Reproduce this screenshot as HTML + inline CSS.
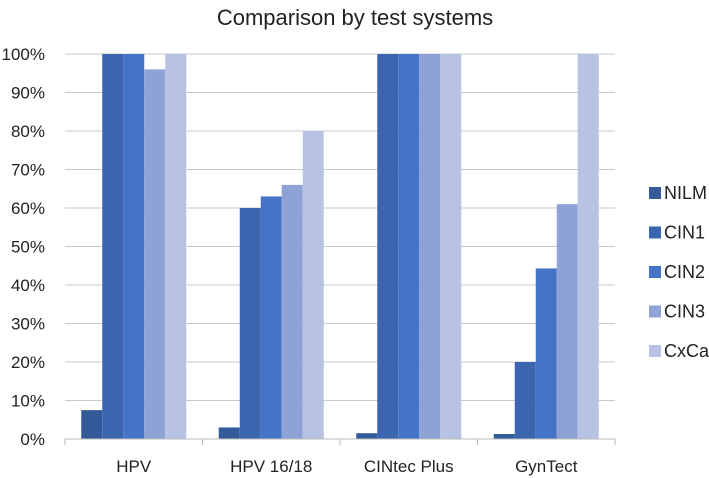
<!DOCTYPE html>
<html><head><meta charset="utf-8"><style>
body{margin:0;background:#fff;}
svg{display:block;font-family:"Liberation Sans",sans-serif;}
</style></head><body>
<svg id="chart" width="709" height="478">
<text x="355" y="25" text-anchor="middle" font-size="22" fill="#222">Comparison by test systems</text>
<g id="grid"></g><g id="bars"></g><g id="axes"></g><g id="legend"></g>
</svg>
<script>
const categories=["HPV","HPV 16/18","CINtec Plus","GynTect"];
const seriesNames=["NILM","CIN1","CIN2","CIN3","CxCa"];
const NILM=[7.5,3,1.5,1.3];
const CIN1=[100,60,100,20];
const CIN2=[100,63,100,44.3];
const CIN3=[96,66,100,61];
const CxCa=[100,80,100,100];
const yTicks=[0,10,20,30,40,50,60,70,80,90,100];
const series=[NILM,CIN1,CIN2,CIN3,CxCa];
const colors=["#335a99","#3b65af","#4574c6","#8ea2d5","#b8c3e4"];
const NS="http://www.w3.org/2000/svg";
const x0=65,x1=615,y0=439,y1=54;
const bw=(x1-x0)/categories.length;
const y=v=>y0-(v/100)*(y0-y1);
function el(t,a,p){const e=document.createElementNS(NS,t);for(const k in a)e.setAttribute(k,a[k]);document.getElementById(p).appendChild(e);return e;}
yTicks.forEach(t=>{
  const l=el("line",{x1:x0,x2:x1,y1:y(t),y2:y(t),stroke:"#c8c8c8","stroke-width":1},"grid");
  
  
  const tx=el("text",{x:45,y:y(t)+6,"text-anchor":"end","font-size":17,fill:"#222"},"axes");
  tx.textContent=t+"%";
  
  
});
const barW=21;
categories.forEach((c,i)=>{
  const gx=x0+i*bw+(bw-barW*5)/2;
  series.forEach((s,j)=>{
    const r=el("rect",{x:gx+j*barW,y:y(s[i]),width:barW,height:y0-y(s[i]),fill:colors[j]},"bars");
    
    
  });
  const tx=el("text",{x:x0+i*bw+bw/2,y:472,"text-anchor":"middle","font-size":17,fill:"#222"},"axes");
  tx.textContent=c;
  
  
});
for(let i=0;i<=categories.length;i++){
  const t=el("line",{x1:x0+i*bw,x2:x0+i*bw,y1:y0,y2:y0+6,stroke:"#bbb"},"axes");
  
  
}
const ax=el("line",{x1:x0,x2:x1,y1:y0,y2:y0,stroke:"#bbb"},"axes");


seriesNames.forEach((n,j)=>{
  const yy=193+j*39.5;
  const r=el("rect",{x:649,y:yy-6,width:12,height:12,fill:colors[j]},"legend");
  
  
  const t=el("text",{x:664,y:yy+6,"font-size":18,fill:"#222"},"legend");
  t.textContent=n;
  
  
});
</script>
</body></html>
